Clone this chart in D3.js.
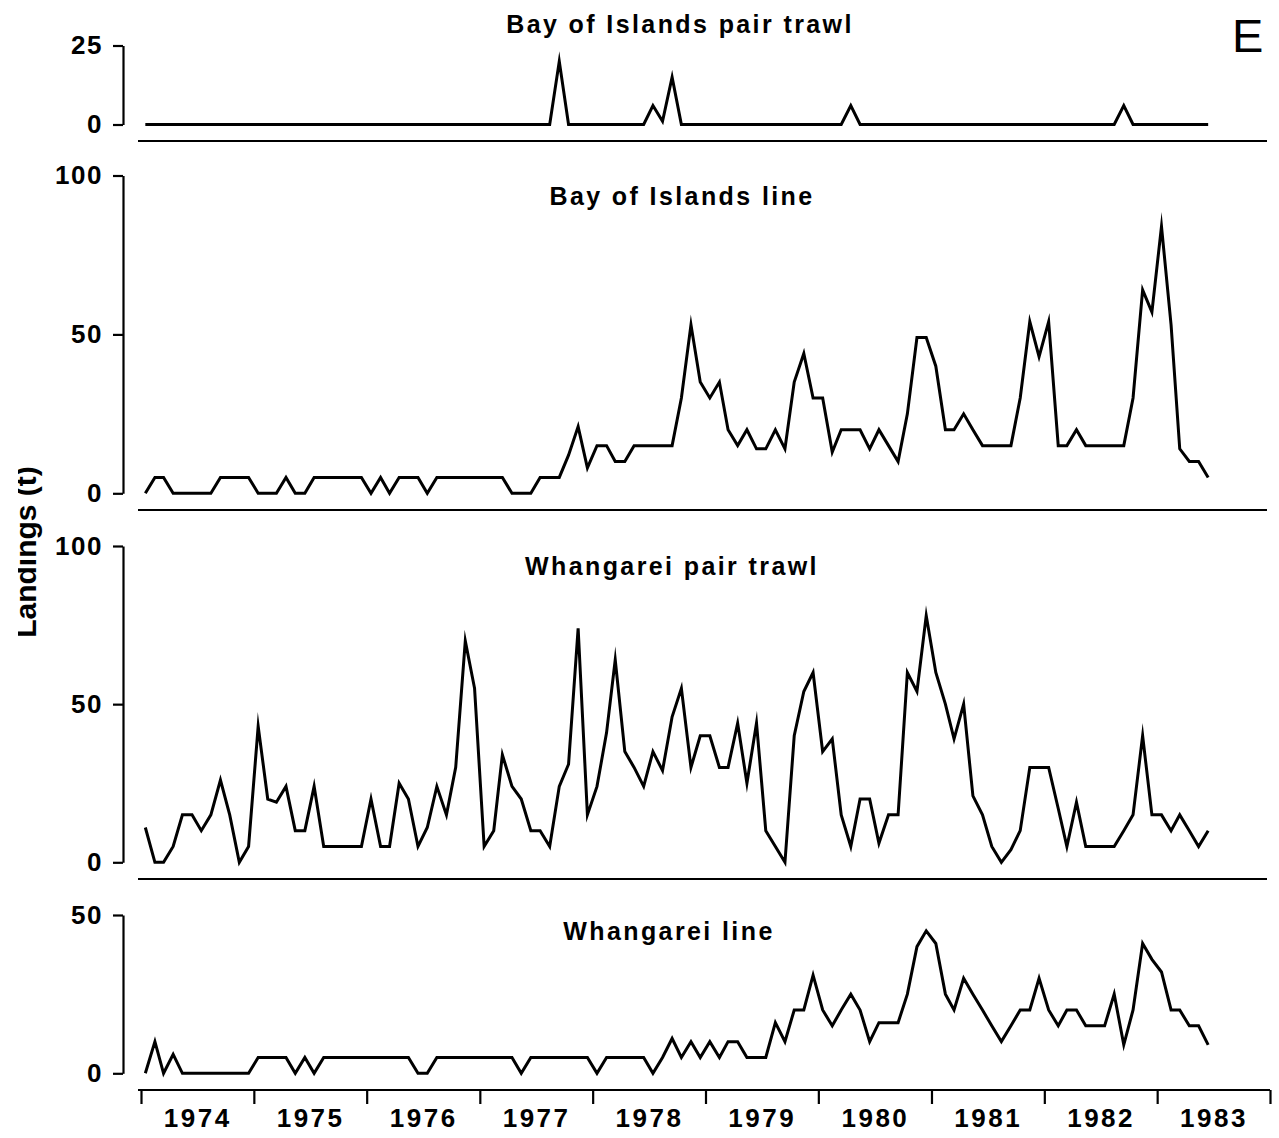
<!DOCTYPE html>
<html>
<head>
<meta charset="utf-8">
<script src="https://cdn.jsdelivr.net/npm/d3@7"></script>
<style>
  html, body { margin: 0; padding: 0; background: #ffffff; }
  svg { display: block; }
  text { font-family: "Liberation Sans", Arial, Helvetica, sans-serif; fill: #000; }
</style>
</head>
<body>
<div id="chart"></div>
<script>
// ---------------- DATA (monthly landings, t; Jan 1974 – Jun 1983) ----------------
const yearLabels = ["1974","1975","1976","1977","1978","1979","1980","1981","1982","1983"];
const firstYear = 1974;

const bayPairTrawl = [
  0,0,0,0,0,0,0,0,0,0,
  0,0,0,0,0,0,0,0,0,0,
  0,0,0,0,0,0,0,0,0,0,
  0,0,0,0,0,0,0,0,0,0,
  0,0,0,0,20,0,0,0,0,0,
  0,0,0,0,6,1,15,0,0,0,
  0,0,0,0,0,0,0,0,0,0,
  0,0,0,0,0,6,0,0,0,0,
  0,0,0,0,0,0,0,0,0,0,
  0,0,0,0,0,0,0,0,0,0,
  0,0,0,0,6,0,0,0,0,0,
  0,0,0,0
];

const bayLine = [
  0,5,5,0,0,0,0,0,5,5,
  5,5,0,0,0,5,0,0,5,5,
  5,5,5,5,0,5,0,5,5,5,
  0,5,5,5,5,5,5,5,5,0,
  0,0,5,5,5,12,21,8,15,15,
  10,10,15,15,15,15,15,30,53,35,
  30,35,20,15,20,14,14,20,14,35,
  44,30,30,13,20,20,20,14,20,15,
  10,25,49,49,40,20,20,25,20,15,
  15,15,15,30,54,43,54,15,15,20,
  15,15,15,15,15,30,64,57,84,53,
  14,10,10,5
];

const whgPairTrawl = [
  11,0,0,5,15,15,10,15,26,15,
  0,5,43,20,19,24,10,10,24,5,
  5,5,5,5,20,5,5,25,20,5,
  11,24,15,30,70,55,5,10,34,24,
  20,10,10,5,24,31,74,15,24,41,
  64,35,30,24,35,29,46,55,30,40,
  40,30,30,44,25,44,10,5,0,40,
  54,60,35,39,15,5,20,20,6,15,
  15,60,54,78,60,50,39,50,21,15,
  5,0,4,10,30,30,30,17,5,19,
  5,5,5,5,10,15,40,15,15,10,
  15,10,5,10
];

const whgLine = [
  0,10,0,6,0,0,0,0,0,0,
  0,0,5,5,5,5,0,5,0,5,
  5,5,5,5,5,5,5,5,5,0,
  0,5,5,5,5,5,5,5,5,5,
  0,5,5,5,5,5,5,5,0,5,
  5,5,5,5,0,5,11,5,10,5,
  10,5,10,10,5,5,5,16,10,20,
  20,31,20,15,20,25,20,10,16,16,
  16,25,40,45,41,25,20,30,25,20,
  15,10,15,20,20,30,20,15,20,20,
  15,15,15,25,9,20,41,36,32,20,
  20,15,15,9
];

const panelTitles = ["Bay of Islands pair trawl","Bay of Islands line","Whangarei pair trawl","Whangarei line"];
const panelMax   = [25, 100, 100, 50];
const panelTicks = [[0,25],[0,50,100],[0,50,100],[0,50]];
const yAxisTitle = "Landings (t)";
const panelLetter = "E";

// ---------------- LAYOUT ----------------
const W = 1279, H = 1138;
const plotLeft = 141, plotRight = 1270, axisX = 123;
const panelsLayout = [
  { zero: 124.5, top: 45.5,  sep: 141, titleX: 680, titleY: 33 },
  { zero: 493.3, top: 175.5, sep: 510, titleX: 682, titleY: 205 },
  { zero: 862.3, top: 546,   sep: 879, titleX: 672, titleY: 575 },
  { zero: 1073.3, top: 915,  sep: 1090, titleX: 669, titleY: 940 }
];

const svg = d3.select("#chart").append("svg")
  .attr("width", W).attr("height", H)
  .attr("viewBox", `0 0 ${W} ${H}`);

const x = d3.scaleTime()
  .domain([new Date(firstYear, 0, 1), new Date(firstYear + yearLabels.length, 0, 1)])
  .range([plotLeft, plotRight]);

const monthDate = i => new Date(firstYear, i, 15);

const series = [bayPairTrawl, bayLine, whgPairTrawl, whgLine];

series.forEach((vals, p) => {
  const L = panelsLayout[p];
  const y = d3.scaleLinear().domain([0, panelMax[p]]).range([L.zero, L.top]);
  const g = svg.append("g");

  // y axis
  const ax = g.append("g")
    .attr("transform", `translate(${axisX},0)`)
    .call(d3.axisLeft(y).tickValues(panelTicks[p]).tickSize(10).tickSizeOuter(0).tickPadding(10).tickFormat(d3.format("d")));
  ax.select(".domain").attr("stroke", "#000").attr("stroke-width", 2.2);
  ax.selectAll(".tick line").attr("stroke", "#000").attr("stroke-width", 2.2);
  ax.selectAll(".tick text")
    .style("font-size", "26px").style("font-weight", "bold")
    .style("letter-spacing", "1.5px").attr("fill", "#000");

  // separator / baseline
  g.append("line")
    .attr("x1", plotLeft - 3).attr("x2", plotRight - 3)
    .attr("y1", L.sep).attr("y2", L.sep)
    .attr("stroke", "#000").attr("stroke-width", 2.2);

  // data line
  const line = d3.line()
    .x((d, i) => x(monthDate(i)))
    .y(d => y(d));
  g.append("path")
    .datum(vals)
    .attr("d", line)
    .attr("fill", "none")
    .attr("stroke", "#000")
    .attr("stroke-width", 3)
    .attr("stroke-linejoin", "miter")
    .attr("stroke-miterlimit", 10);

  // title
  g.append("text")
    .attr("x", L.titleX).attr("y", L.titleY)
    .attr("text-anchor", "middle")
    .style("font-size", "25px").style("font-weight", "bold")
    .style("letter-spacing", "2.4px")
    .text(panelTitles[p]);
});

// x axis (year boundaries)
const yearStarts = d3.range(yearLabels.length + 1).map(k => new Date(firstYear + k, 0, 1));
const xa = svg.append("g")
  .attr("transform", `translate(0,${panelsLayout[3].sep})`)
  .call(d3.axisBottom(x).tickValues(yearStarts).tickSize(14).tickSizeOuter(0).tickFormat(""));
xa.select(".domain").remove();
xa.selectAll(".tick line").attr("stroke", "#000").attr("stroke-width", 2.2);
svg.append("line")
  .attr("x1", plotLeft).attr("x2", plotRight)
  .attr("y1", panelsLayout[3].sep).attr("y2", panelsLayout[3].sep)
  .attr("stroke", "#000").attr("stroke-width", 2.2);

// year labels centred in each year
const yearMids = yearLabels.map((l, k) => new Date(firstYear + k, 6, 2));
const xl = svg.append("g")
  .attr("transform", `translate(0,${panelsLayout[3].sep})`)
  .call(d3.axisBottom(x).tickValues(yearMids).tickSize(0).tickPadding(19)
    .tickFormat((d, i) => yearLabels[i]));
xl.select(".domain").remove();
xl.selectAll(".tick text")
  .style("font-size", "26px").style("font-weight", "bold")
  .style("letter-spacing", "2.5px").attr("fill", "#000");

// y-axis title (partly cut at the left edge, as in the original)
const defs = svg.append("defs");
defs.append("clipPath").attr("id", "ylabClip")
  .append("rect").attr("x", 18).attr("y", 0).attr("width", 60).attr("height", H);
svg.append("g").attr("clip-path", "url(#ylabClip)")
  .append("text")
  .attr("transform", "translate(36,552) rotate(-90)")
  .attr("text-anchor", "middle")
  .style("font-size", "30px").style("font-weight", "bold")
  .text(yAxisTitle);

// panel letter
svg.append("text")
  .attr("x", 1232).attr("y", 52)
  .style("font-size", "47px")
  .text(panelLetter);
</script>
</body>
</html>
